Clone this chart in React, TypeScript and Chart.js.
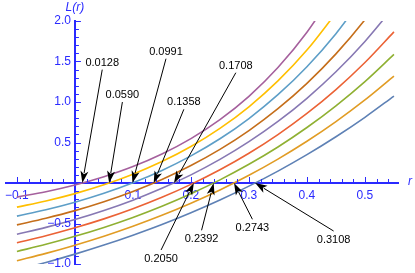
import React, { useEffect, useRef } from "react";
import { Chart, registerables } from "chart.js";

Chart.register(...registerables);

// sample positions along r
const rValues = [-0.1, -0.05, 0, 0.05, 0.1, 0.15, 0.2, 0.25, 0.3, 0.35, 0.4, 0.45, 0.5, 0.55];

// L(r), one list per curve (named by its root)
const curveRoot03108 = [-1.075, -0.981, -0.878, -0.766, -0.644, -0.512, -0.367, -0.21, -0.039, 0.147, 0.35, 0.571, 0.811, 1.073];
const curveRoot02743 = [-0.96, -0.869, -0.768, -0.657, -0.534, -0.399, -0.25, -0.086, 0.095, 0.295, 0.515, 0.758, 1.025, 1.32];
const curveRoot02392 = [-0.845, -0.757, -0.658, -0.548, -0.425, -0.287, -0.133, 0.039, 0.231, 0.445, 0.685, 0.953, 1.252, 1.587];
const curveRoot02050 = [-0.737, -0.651, -0.553, -0.443, -0.318, -0.177, -0.017, 0.163, 0.367, 0.598, 0.859, 1.154, 1.488, 1.866];
const curveRoot01708 = [-0.633, -0.548, -0.451, -0.339, -0.212, -0.066, 0.1, 0.291, 0.51, 0.76, 1.046, 1.373, 1.748, 2.177];
const curveRoot01358 = [-0.517, -0.435, -0.341, -0.231, -0.104, 0.044, 0.216, 0.415, 0.647, 0.917, 1.23, 1.594, 2.016, 2.507];
const curveRoot00991 = [-0.409, -0.33, -0.237, -0.127, 0.003, 0.155, 0.335, 0.546, 0.796, 1.09, 1.436, 1.844, 2.324];
const curveRoot00590 = [-0.298, -0.222, -0.131, -0.022, 0.109, 0.265, 0.451, 0.674, 0.941, 1.26, 1.641, 2.097];
const curveRoot00128 = [-0.174, -0.107, -0.024, 0.078, 0.203, 0.358, 0.548, 0.782, 1.07, 1.425, 1.861, 2.399];

const curves = [
  curveRoot03108,
  curveRoot02743,
  curveRoot02392,
  curveRoot02050,
  curveRoot01708,
  curveRoot01358,
  curveRoot00991,
  curveRoot00590,
  curveRoot00128,
];

const curveColors = [
  "#5E81B5",
  "#E19C24",
  "#8FB032",
  "#EB6235",
  "#8778B3",
  "#C56E1A",
  "#5D9EC7",
  "#FFBF00",
  "#A5609D",
];

// callouts: root values and their labels
const rootValues = [0.0128, 0.059, 0.0991, 0.1358, 0.1708, 0.205, 0.2392, 0.2743, 0.3108];
const rootLabels = ["0.0128", "0.0590", "0.0991", "0.1358", "0.1708", "0.2050", "0.2392", "0.2743", "0.3108"];
// where each callout label sits (data coordinates)
const labelX = [0.0471, 0.0818, 0.157, 0.1878, 0.2774, 0.1485, 0.2183, 0.306, 0.446];
const labelY = [1.486, 1.086, 1.621, 0.996, 1.448, -0.938, -0.695, -0.559, -0.704];

const xTickValues = [-0.1, 0.1, 0.2, 0.3, 0.4, 0.5];
const yTickValues = [-1, -0.5, 0.5, 1, 1.5, 2];

const AXIS = "#2a2aff";
const FONT = "'Liberation Sans', Arial, sans-serif";

const fmt = (v: number) => v.toFixed(1).replace("-", "\u2212");

const mathPlugin = {
  id: "mathAxes",
  afterDraw(chart: any) {
    const { ctx, scales } = chart;
    const xs = scales.x;
    const ys = scales.y;
    const x0 = xs.getPixelForValue(0);
    const y0 = ys.getPixelForValue(0);
    ctx.save();
    // tick marks
    ctx.strokeStyle = AXIS;
    ctx.lineWidth = 1;
    for (let i = -6; i <= 28; i++) {
      if (i === 0) continue;
      const v = i * 0.02;
      if (v < xs.min || v > xs.max) continue;
      const len = i % 5 === 0 ? 5 : 3;
      const px = Math.round(xs.getPixelForValue(v)) + 0.5;
      ctx.beginPath();
      ctx.moveTo(px, y0 - 1);
      ctx.lineTo(px, y0 - 1 - len);
      ctx.stroke();
    }
    for (let i = -10; i <= 20; i++) {
      if (i === 0) continue;
      const v = i * 0.1;
      const len = i % 5 === 0 ? 5 : 3;
      const py = Math.round(ys.getPixelForValue(v)) + 0.5;
      ctx.beginPath();
      ctx.moveTo(x0 + 1, py);
      ctx.lineTo(x0 + 1 + len, py);
      ctx.stroke();
    }
    // y tick labels, to the left of the axis
    ctx.fillStyle = AXIS;
    ctx.font = `12px ${FONT}`;
    ctx.textAlign = "right";
    ctx.textBaseline = "middle";
    for (const v of yTickValues) {
      ctx.fillText(fmt(v), x0 - 4, ys.getPixelForValue(v));
    }
    // axis titles
    ctx.font = `italic 12px ${FONT}`;
    ctx.textAlign = "center";
    ctx.fillText("L(r)", x0, 8);
    ctx.textAlign = "left";
    ctx.fillText("r", xs.right + 10, y0 - 1);

    // callouts
    ctx.strokeStyle = "#000";
    ctx.fillStyle = "#000";
    ctx.lineWidth = 1;
    ctx.font = `11px ${FONT}`;
    ctx.textAlign = "center";
    ctx.textBaseline = "middle";
    for (let i = 0; i < rootValues.length; i++) {
      const tx = xs.getPixelForValue(rootValues[i]);
      const ty = y0;
      const lx = xs.getPixelForValue(labelX[i]);
      const ly = ys.getPixelForValue(labelY[i]);
      const above = labelY[i] > 0;
      const sx = lx;
      const sy = above ? ly + 7 : ly - 9;
      const dx = tx - sx;
      const dy = ty - sy;
      const d = Math.hypot(dx, dy);
      const ux = dx / d;
      const uy = dy / d;
      const hl = 12;
      const hw = 4;
      const bx = tx - ux * hl;
      const by = ty - uy * hl;
      ctx.beginPath();
      ctx.moveTo(sx, sy);
      ctx.lineTo(bx + ux * 2, by + uy * 2);
      ctx.stroke();
      ctx.beginPath();
      ctx.moveTo(tx, ty);
      ctx.lineTo(bx - uy * hw, by + ux * hw);
      ctx.lineTo(tx - ux * (hl - 3), ty - uy * (hl - 3));
      ctx.lineTo(bx + uy * hw, by - ux * hw);
      ctx.closePath();
      ctx.fill();
      ctx.fillText(rootLabels[i], lx, ly);
    }
    ctx.restore();
  },
};

export default function App() {
  const ref = useRef<HTMLCanvasElement | null>(null);
  useEffect(() => {
    if (!ref.current) return;
    const chart = new Chart(ref.current, {
      type: "line",
      data: {
        datasets: curves.map((c, i) => ({
          label: rootLabels[8 - i],
          data: c.map((y, j) => ({ x: rValues[j], y })),
          borderColor: curveColors[i],
          backgroundColor: curveColors[i],
          borderWidth: 1.6,
          pointRadius: 0,
          cubicInterpolationMode: "monotone" as const,
          fill: false,
        })),
      },
      options: {
        responsive: false,
        animation: false,
        devicePixelRatio: 1,
        layout: { padding: { left: 3, right: 17, top: 21, bottom: 9 } },
        plugins: { legend: { display: false }, tooltip: { enabled: false } },
        scales: {
          x: {
            type: "linear",
            position: { y: 0 } as any,
            min: -0.119,
            max: 0.557,
            afterBuildTicks: (s: any) => {
              s.ticks = xTickValues.map((v) => ({ value: v }));
            },
            grid: { display: true, drawOnChartArea: false, drawTicks: false, color: "rgba(0,0,0,0)" },
            border: { display: true, color: AXIS, width: 2 },
            ticks: {
              color: AXIS,
              font: { family: FONT, size: 12 },
              padding: 5,
              autoSkip: false,
              maxRotation: 0,
              callback: (v: any) => fmt(Number(v)),
            },
          },
          y: {
            type: "linear",
            position: { x: 0 } as any,
            min: -1,
            max: 2,
            afterBuildTicks: (s: any) => {
              s.ticks = yTickValues.map((v) => ({ value: v }));
            },
            grid: { display: true, drawOnChartArea: false, drawTicks: false, color: "rgba(0,0,0,0)" },
            border: { display: true, color: AXIS, width: 2 },
            ticks: { display: false },
          },
        },
      },
      plugins: [mathPlugin],
    });
    return () => chart.destroy();
  }, []);
  return (
    <div style={{ position: "fixed", left: 0, top: 0, width: 415, height: 273, background: "#fff" }}>
      <canvas ref={ref} width={415} height={273} style={{ display: "block" }} />
    </div>
  );
}
